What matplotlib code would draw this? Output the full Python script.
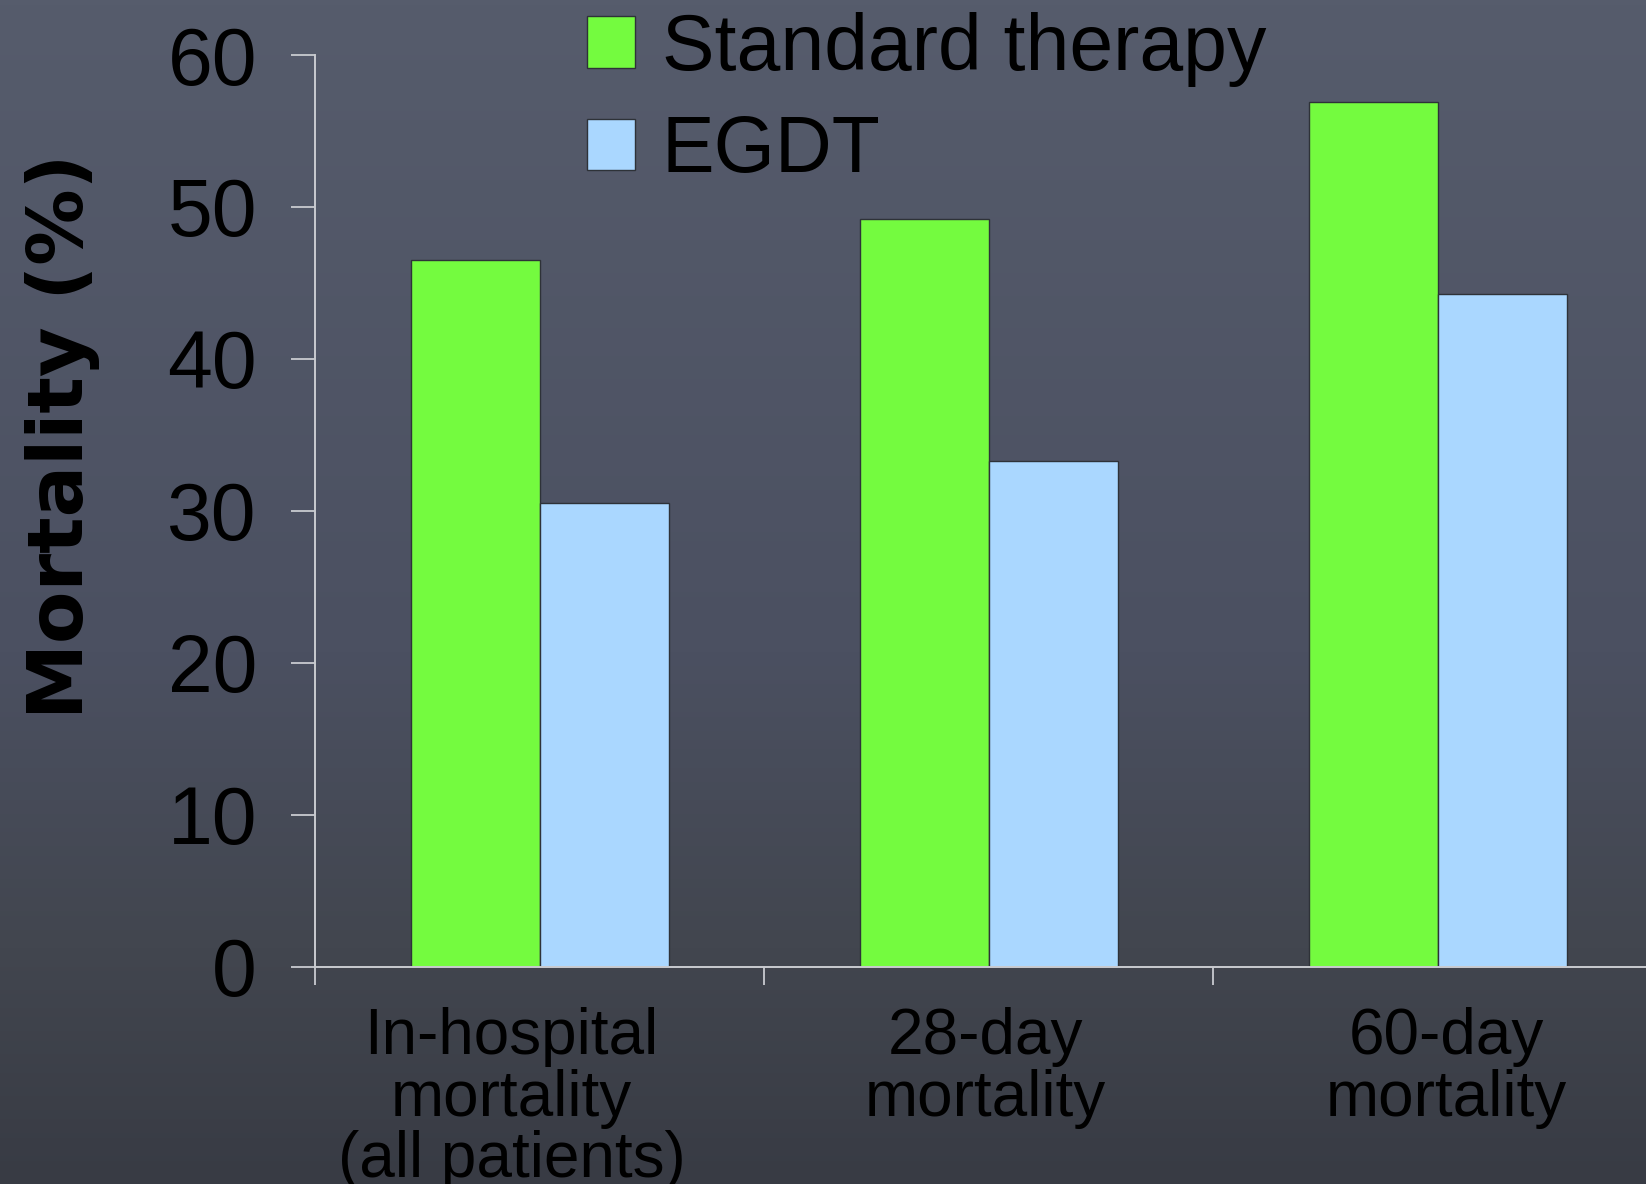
import numpy as np
import matplotlib
matplotlib.use("Agg")
import matplotlib.pyplot as plt
from matplotlib.patches import Patch
from matplotlib.transforms import ScaledTranslation
from matplotlib.colors import LinearSegmentedColormap

# ---- data ----
categories = ["In-hospital\nmortality\n(all patients)", "28-day\nmortality", "60-day\nmortality"]
standard_therapy = [46.5, 49.2, 56.9]
egdt = [30.5, 33.3, 44.3]
series_names = ["Standard therapy", "EGDT"]
y_ticks = [0, 10, 20, 30, 40, 50, 60]

# ---- style ----
W, H, DPI = 1646, 1184, 100
GREEN = "#74FB3F"
BLUE = "#AAD7FF"
EDGE = "#2e3238"
SPINE = "#c9cbd0"
TXT = "Liberation Sans"

fig = plt.figure(figsize=(W / DPI, H / DPI), dpi=DPI)

# chalkboard-like background gradient
bg = fig.add_axes([0, 0, 1, 1], zorder=-10)
cmap = LinearSegmentedColormap.from_list(
    "bg", [(0.0, "#565c6c"), (0.55, "#4b5061"), (0.8, "#42464f"), (1.0, "#383b44")])
grad = np.linspace(0, 1, 256).reshape(-1, 1)
bg.imshow(grad, cmap=cmap, aspect="auto", extent=[0, 1, 0, 1], origin="upper")
bg.set_axis_off()

# main axes (pixel geometry from the reference)
left, right, top, bottom = 315, 1646, 55, 966.7
ax = fig.add_axes([left / W, (H - bottom) / H, (right - left) / W, (bottom - top) / H])
ax.set_facecolor("none")

x = np.arange(len(categories))
w = 0.287
ax.bar(x - w / 2, standard_therapy, w, color=GREEN, edgecolor=EDGE, linewidth=1.0, zorder=3)
ax.bar(x + w / 2, egdt, w, color=BLUE, edgecolor=EDGE, linewidth=1.0, zorder=3)

ax.set_ylim(0, 60)
ax.set_xlim(-0.5, 2.463)

for s in ["top", "right"]:
    ax.spines[s].set_visible(False)
for s in ["left", "bottom"]:
    ax.spines[s].set_color(SPINE)
    ax.spines[s].set_linewidth(1.4)
    ax.spines[s].set_zorder(4)

ax.set_yticks(y_ticks)
ax.set_yticklabels([str(v) for v in y_ticks])
ax.tick_params(axis="y", direction="out", length=17.3, width=1.3, color=SPINE,
               pad=24.5, labelsize=58, labelcolor="black")
for lab in ax.get_yticklabels():
    lab.set_fontfamily(TXT)

ax.set_xticks([-0.5, 0.5, 1.5])
ax.set_xticklabels([])
ax.tick_params(axis="x", direction="out", length=13, width=1.3, color=SPINE)

# category labels
offsets_px = [-28, -3, 8]
for i, (cat, dx) in enumerate(zip(categories, offsets_px)):
    tr = ax.get_xaxis_transform() + ScaledTranslation(dx / DPI, -40 / DPI, fig.dpi_scale_trans)
    ax.text(i, 0, cat, transform=tr, ha="center", va="top", multialignment="center",
            fontsize=46, family=TXT, color="black", linespacing=1.04)

# y label
fig.text(83 / W, 1 - 436 / H, "Mortality (%)", rotation=90, rotation_mode="anchor",
         ha="center", va="baseline", fontsize=55, fontweight="bold",
         family="DejaVu Sans", color="black")

# legend
handles = [Patch(facecolor=GREEN, edgecolor=EDGE, linewidth=1.0),
           Patch(facecolor=BLUE, edgecolor=EDGE, linewidth=1.0)]
leg = fig.legend(handles, series_names, loc="upper left",
                 bbox_to_anchor=(587 / W, 1 - 12 / H), bbox_transform=fig.transFigure,
                 frameon=False, prop={"family": TXT, "size": 56.7},
                 handlelength=0.61, handleheight=0.635, handletextpad=0.34,
                 labelspacing=0.344, borderpad=0, borderaxespad=0)
for t in leg.get_texts():
    t.set_color("black")

fig.savefig("out.png", dpi=DPI)
